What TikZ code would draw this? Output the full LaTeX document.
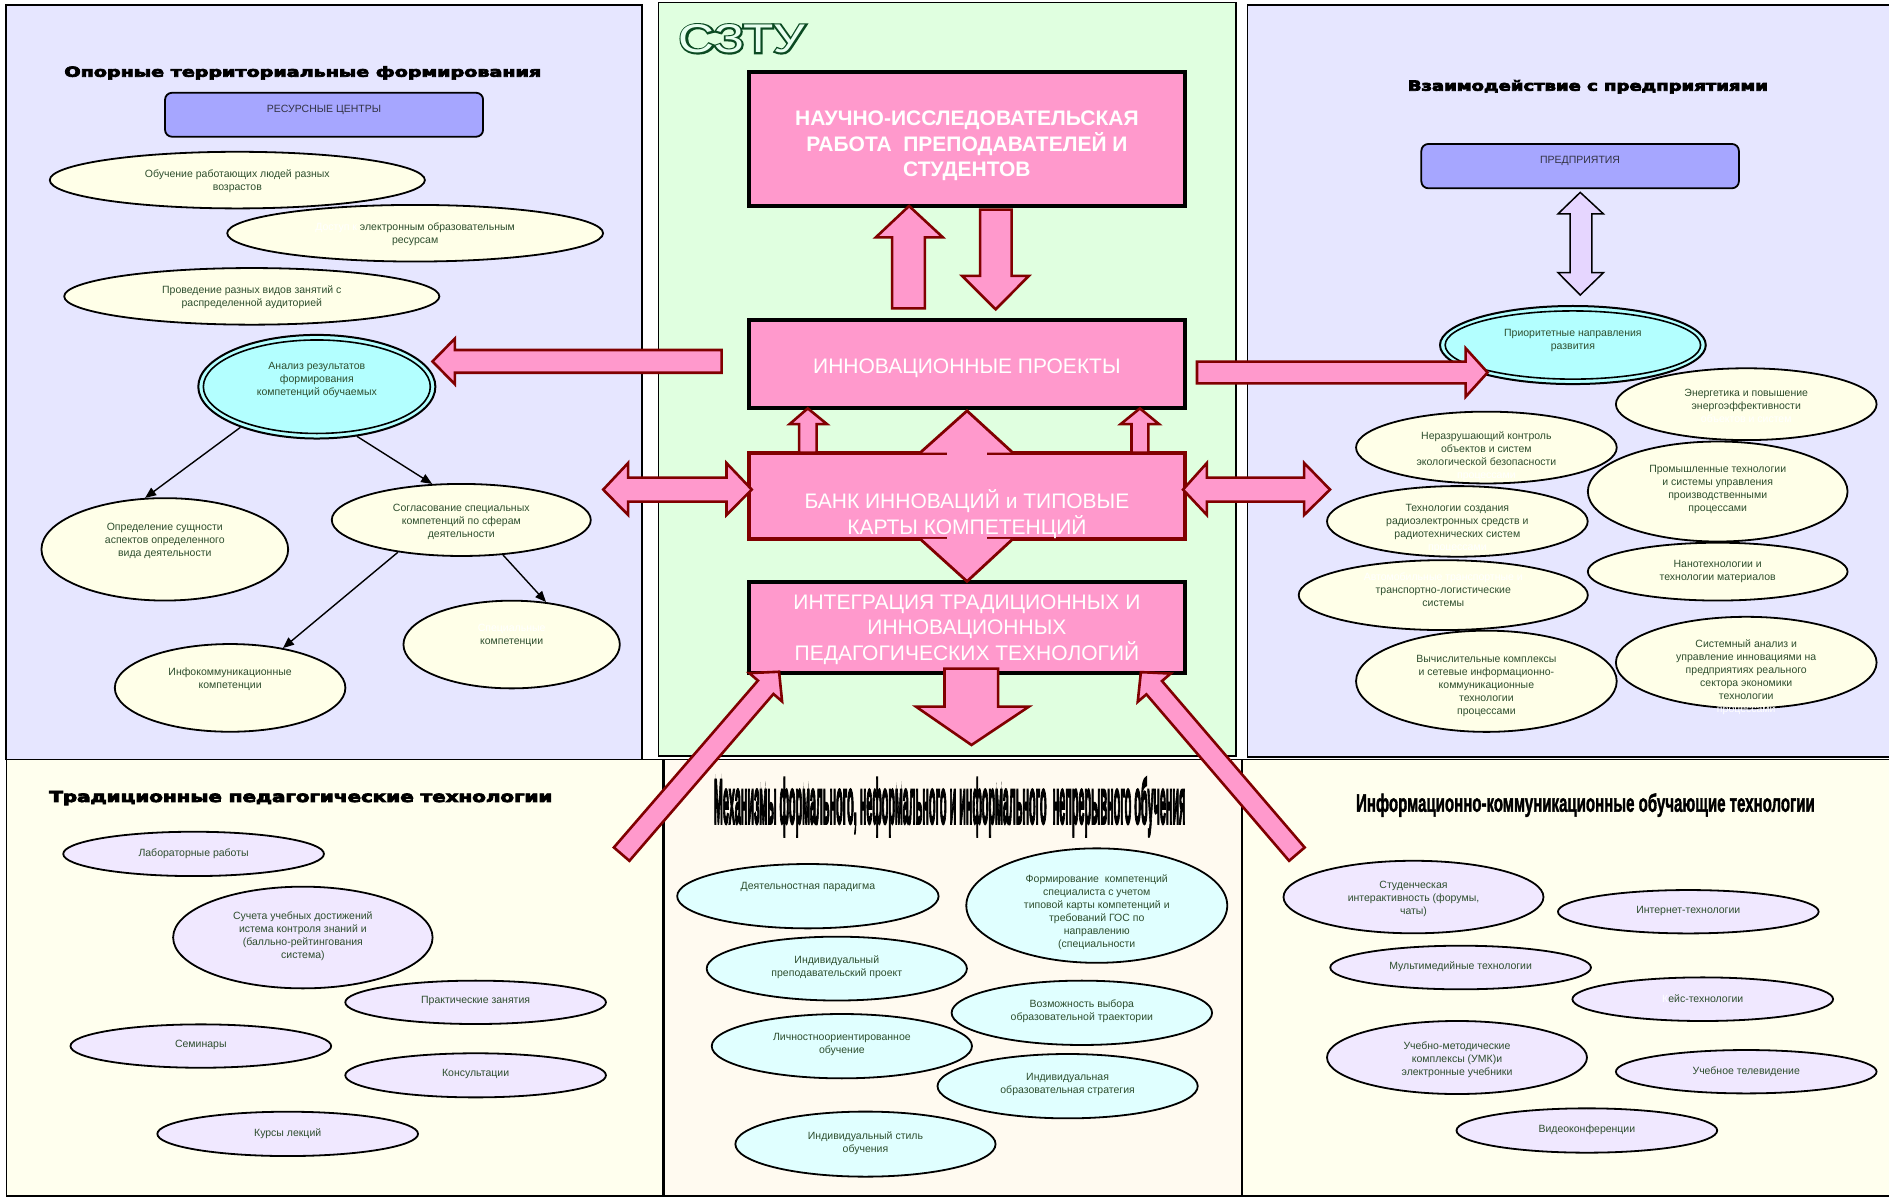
\documentclass[tikz,border=0pt]{standalone}
\usepackage{fontspec}
\usepackage{graphicx}
\setmainfont{Liberation Sans}
\newfontfamily\djv[FakeBold=5]{DejaVu Sans}
\newfontfamily\lsh[FakeBold=5]{Liberation Sans}
\newfontfamily\lsm[FakeBold=2]{Liberation Sans}
\newfontfamily\szb[FakeBold=8]{Liberation Sans}
\usetikzlibrary{shapes.geometric,arrows.meta}
\definecolor{lav}{HTML}{E6E6FF}
\definecolor{grn}{HTML}{E0FFE0}
\definecolor{ivo}{HTML}{FFFFEE}
\definecolor{flo}{HTML}{FFFAF0}
\definecolor{pnk}{HTML}{FF99CC}
\definecolor{mar}{HTML}{800000}
\definecolor{yel}{HTML}{FFFFE8}
\definecolor{cyn}{HTML}{B3FFFF}
\definecolor{lcy}{HTML}{E0FFFF}
\definecolor{lvl}{HTML}{F0E8FF}
\definecolor{per}{HTML}{A6A6FF}
\definecolor{dbl}{HTML}{E6D6FF}
\definecolor{tc}{HTML}{2E4E2E}
\definecolor{gray3}{HTML}{333344}
\definecolor{szg}{HTML}{0B4A22}
\definecolor{szl}{HTML}{E8FFF0}
\newcommand\ovl[8]{%
  \node[ov,#1,minimum width=#5*2.4094pt,minimum height=#6*2.4094pt] (#2) at (#3,#4) {};
  \node[etx] (#2t) at (#3,#7) {#8};}
\begin{document}
\begin{tikzpicture}[x=1.2047pt,y=-1.2047pt,
  panel/.style={draw=black,line width=1.6pt},
  ov/.style={ellipse,draw=black,line width=1.8pt,inner sep=0pt},
  etx/.style={text=tc,font=\fontsize{10.5}{13}\selectfont,align=center,inner sep=0pt},
  pbox/.style={rectangle,draw=black,line width=4pt,fill=pnk,inner sep=0pt,minimum width=362.2*1.2047pt},
  btx/.style={text=white,align=center,inner sep=0pt},
  blk/.style={fill=pnk,draw=mar,line width=2.6pt,line join=miter},
  rbox/.style={rectangle,rounded corners=7pt,draw=black,line width=1.8pt,fill=per,inner sep=0pt},
  rtx/.style={text=gray3,font=\fontsize{10.5}{13}\selectfont,inner sep=0pt},
  con/.style={draw=black,line width=1.4pt,-{Triangle[length=11pt,width=9pt]}},
  ttl/.style={anchor=base west,inner sep=0pt}]
\useasboundingbox (0,0) rectangle (1568,993.6);
\fill[white] (0,0) rectangle (1568,993.6);
% panels
\path[panel,fill=ivo] (5.3,630.3) rectangle (550.5,992.8);
\path[panel,fill=flo] (551,630.3) rectangle (1030.7,992.8);
\path[panel,fill=ivo] (1031,630.3) rectangle (1572,992.8);
\path[panel,fill=lav] (5.2,4) rectangle (532.8,630.3);
\path[panel,fill=grn] (546.5,2.2) rectangle (1026,627.6);
\path[panel,fill=lav] (1035.5,4.2) rectangle (1572,628.5);
% ---------- top left
\node[ttl] (t1) at (53.3,63.7) {\resizebox{476.8pt}{10.5pt}{\djv\bfseries Опорные территориальные формирования}};
\node[rbox,minimum width=264*1.2047pt,minimum height=36.5*1.2047pt] (res) at (269,95.25) {};
\node[rtx] (rest) at (269,90.8) {РЕСУРСНЫЕ ЦЕНТРЫ};
\ovl{fill=yel}{e1}{197}{149.5}{155.7}{23.5}{150}{Обучение работающих людей разных\\возрастов}
\ovl{fill=yel}{e2}{344.6}{193.6}{156}{23.5}{194.4}{\textcolor{white}{Доступ к} электронным образовательным\\ресурсам}
\ovl{fill=yel}{e3}{209}{246}{155.7}{23.5}{246.5}{Проведение разных видов занятий с\\распределенной аудиторией}
\ovl{fill=cyn,line width=2pt}{anl}{263}{321}{98.4}{43}{315.5}{Анализ результатов\\формирования\\компетенций обучаемых}
\node[ov,line width=1.6pt,minimum width=94.2*2.4094pt,minimum height=38.8*2.4094pt] (anlin) at (263,321) {};
\ovl{fill=yel}{opr}{136.8}{456}{102.4}{42.5}{449}{Определение сущности\\аспектов определенного\\вида деятельности}
\ovl{fill=yel}{sogl}{382.9}{431.6}{107.5}{29.9}{433.2}{Согласование специальных\\компетенций по сферам\\деятельности}
\ovl{fill=yel}{info}{191}{571}{95.7}{36.4}{563.8}{Инфокоммуникационные\\компетенции}
\ovl{fill=yel}{spec}{424.7}{535}{89.8}{36.4}{527}{\textcolor{white}{Специальные}\\компетенции}
\draw[con] (anl.208) -- (opr.111);
\draw[con] (anl.309) -- (sogl.129);
\draw[con] (sogl.207) -- (info.37);
\draw[con] (sogl.320) -- (spec.51);
% ---------- top right
\node[ttl] (t2) at (1168.4,75.3) {\resizebox{360pt}{10.7pt}{\djv\bfseries Взаимодействие с предприятиями}};
\node[rbox,minimum width=263.6*1.2047pt,minimum height=36.8*1.2047pt] (pred) at (1311.6,137.9) {};
\node[rtx] (predt) at (1311.6,133.6) {ПРЕДПРИЯТИЯ};
\ovl{fill=cyn,line width=2pt}{prio}{1305.6}{286.4}{110.3}{32.4}{283}{Приоритетные направления\\развития}
\node[ov,line width=1.6pt,minimum width=106*2.4094pt,minimum height=28.3*2.4094pt] (prioin) at (1305.6,286.4) {};
\filldraw[fill=dbl,draw=black,line width=1.5pt] (1311.7,159.7) -- (1331,177.6) -- (1321.3,177.6) -- (1321.3,226.3) -- (1331,226.3) -- (1311.7,244.9) -- (1293.2,226.3) -- (1303.2,226.3) -- (1303.2,177.6) -- (1293.2,177.6) -- cycle;
\ovl{fill=yel}{r1}{1449.5}{335.5}{108.2}{29.8}{337}{Энергетика и повышение\\энергоэффективности\\\textcolor{white}{объектов и систем}}
\ovl{fill=yel}{r2}{1233.8}{371.5}{108.2}{29.8}{378.6}{Неразрушающий контроль\\объектов и систем\\экологической безопасности\\\textcolor{white}{процессами}}
\ovl{fill=yel}{r3}{1425.8}{408}{107.8}{41.5}{406.5}{Промышленные технологии\\и системы управления\\производственными\\процессами}
\ovl{fill=yel}{r4}{1209.7}{432.8}{108.2}{29.3}{439}{Технологии создания\\радиоэлектронных средств и\\радиотехнических систем\\\textcolor{white}{процессами}}
\ovl{fill=yel}{r5}{1425.8}{474.5}{107.8}{24}{474.5}{Нанотехнологии и\\технологии материалов}
\ovl{fill=yel}{r6}{1198}{494}{120}{29}{489.5}{\textcolor{white}{Автомобильные транспортные и}\\транспортно-логистические\\системы}
\ovl{fill=yel}{r7}{1233.8}{565.5}{108.2}{42}{569}{Вычислительные комплексы\\и сетевые информационно-\\коммуникационные\\технологии\\процессами}
\ovl{fill=yel}{r8}{1449.5}{550}{108.2}{38}{561.7}{Системный анализ и\\управление инновациями на\\предприятиях реального\\сектора экономики\\технологии\\\textcolor{white}{процессами}}
% ---------- bottom left
\node[ttl] (t3) at (40.8,665.7) {\resizebox{503pt}{11pt}{\djv\bfseries Традиционные педагогические технологии}};
\ovl{fill=lvl}{b1}{160.7}{708.8}{108.2}{18.4}{708.3}{Лабораторные работы}
\ovl{fill=lvl}{b2}{251.4}{778.2}{107.7}{42.2}{776.7}{Сучета учебных достижений\\истема контроля знаний и\\(балльно-рейтингования\\система)}
\ovl{fill=lvl}{b3}{394.8}{832}{108.2}{18}{831.2}{Практические занятия}
\ovl{fill=lvl}{b4}{166.7}{868.3}{108.2}{18}{867.7}{Семинары}
\ovl{fill=lvl}{b5}{394.8}{892.6}{108.2}{18.3}{891.5}{Консультации}
\ovl{fill=lvl}{b6}{238.8}{941.2}{108.2}{18.4}{940.8}{Курсы лекций}
% ---------- bottom centre
\node[ttl] (t4) at (592.4,683.4) {\resizebox{471.5pt}{46pt}{\lsh\bfseries Механизмы формального, неформального и информального\ \ непрерывного обучения}};
\ovl{fill=lcy}{c1}{670.6}{743.9}{108.5}{26.7}{736.6}{Деятельностная парадигма}
\ovl{fill=lcy}{c2}{910.4}{751.7}{108.3}{47.5}{757.2}{Формирование\ \ компетенций\\специалиста с учетом\\типовой карты компетенций и\\требований ГОС по\\направлению\\(специальности}
\ovl{fill=lcy}{c3}{694.6}{804}{108}{26.5}{802.7}{Индивидуальный\\преподавательский проект}
\ovl{fill=lcy}{c4}{898}{840.7}{108.1}{26.7}{839.3}{Возможность выбора\\образовательной траектории}
\ovl{fill=lcy}{c5}{698.8}{868.4}{108}{26.7}{866.8}{Личностноориентированное\\обучение}
\ovl{fill=lcy}{c6}{886.2}{901.6}{108}{26.7}{899.9}{Индивидуальная\\образовательная стратегия}
\ovl{fill=lcy}{c7}{718.4}{949.7}{108}{27}{948.8}{Индивидуальный стиль\\обучения}
% ---------- bottom right
\node[ttl] (t5) at (1125.5,673.8) {\resizebox{458.6pt}{18.4pt}{\lsm\bfseries Информационно-коммуникационные обучающие технологии}};
\ovl{fill=lvl}{d1}{1173.3}{744.6}{107.9}{30.1}{746.4}{Студенческая\\интерактивность (форумы,\\чаты)}
\ovl{fill=lvl}{d2}{1401.4}{756.8}{108.2}{18}{756}{Интернет-технологии}
\ovl{fill=lvl}{d3}{1212.4}{803.1}{108.2}{18.1}{802.4}{Мультимедийные технологии}
\ovl{fill=lvl}{d4}{1413.4}{829.4}{108.2}{18.1}{828.7}{\textcolor{white}{К}ейс-технологии}
\ovl{fill=lvl}{d5}{1209.4}{877.8}{107.9}{30.3}{879.6}{Учебно-методические\\комплексы (УМК)и\\электронные учебники}
\ovl{fill=lvl}{d6}{1449.5}{889.6}{108.2}{18}{889.6}{Учебное телевидение}
\ovl{fill=lvl}{d7}{1317.2}{938.4}{108.2}{18.4}{937.5}{Видеоконференции}
% ---------- centre
\node[ttl] (sz1) at (563.4,43.7) {\resizebox{126pt}{28pt}{\szb\color{szg}СЗТУ}};
\node[ttl] (sz2) at (563.4,43.7) {\resizebox{126pt}{28pt}{\color{szl}СЗТУ}};
\node[pbox,minimum height=111.2*1.2047pt] (nir) at (802.6,115.1) {};
\node[btx,font=\fontsize{21}{25.8}\selectfont\bfseries] (nirt) at (802.6,121) {НАУЧНО-ИССЛЕДОВАТЕЛЬСКАЯ\\РАБОТА\ \ ПРЕПОДАВАТЕЛЕЙ И\\СТУДЕНТОВ};
\node[pbox,minimum height=73.1*1.2047pt] (inn) at (802.6,302.2) {};
\node[btx,font=\fontsize{21}{25.8}\selectfont] (innt) at (802.6,305.8) {ИННОВАЦИОННЫЕ ПРОЕКТЫ};
\node[pbox,draw=mar,line width=3.6pt,minimum height=71.6*1.2047pt] (bank) at (802.6,411.6) {};
\node[pbox,minimum height=76.2*1.2047pt] (integ) at (802.6,520.9) {};
% arrows between upper boxes
\filldraw[blk] (740.5,256) -- (740.5,197) -- (727,197) -- (754.6,171) -- (782.6,197) -- (767.7,197) -- (767.7,256) -- cycle;
\filldraw[blk] (813.6,174) -- (839.7,174) -- (839.7,229) -- (854,229) -- (826.5,256.8) -- (798.6,229) -- (813.6,229) -- cycle;
% small arrows bank -> innovation
\filldraw[blk] (663.3,375.8) -- (663.3,352) -- (655.5,352) -- (670.5,339) -- (686.4,352) -- (677.8,352) -- (677.8,375.8) -- cycle;
\filldraw[blk] (939.2,375.8) -- (939.2,352) -- (930.3,352) -- (946.2,339) -- (962,352) -- (953.2,352) -- (953.2,375.8) -- cycle;
% vertical double arrow through bank box
\fill[pnk] (763.8,375.8) -- (802.7,341) -- (840.7,375.8) -- cycle;
\draw[mar,line width=2.8pt,line join=miter] (763.8,375.8) -- (802.7,341) -- (840.7,375.8);
\fill[pnk] (785.7,373.4) rectangle (819,378.4);
\fill[pnk] (763.8,447.4) -- (802.7,482.6) -- (840.7,447.4) -- cycle;
\draw[mar,line width=2.8pt,line join=miter] (763.8,447.4) -- (802.7,482.6) -- (840.7,447.4);
\fill[pnk] (785.7,444.8) rectangle (819,449.9);
\node[btx,font=\fontsize{21}{26}\selectfont] (bankt) at (802.6,426.4) {БАНК ИННОВАЦИЙ и ТИПОВЫЕ\\КАРТЫ КОМПЕТЕНЦИЙ};
\node[btx,font=\fontsize{21}{25.7}\selectfont] (integt) at (802.6,522.6) {ИНТЕГРАЦИЯ ТРАДИЦИОННЫХ И\\ИННОВАЦИОННЫХ\\ПЕДАГОГИЧЕСКИХ ТЕХНОЛОГИЙ};
% down arrow from integration box
\filldraw[blk] (784,555) -- (828.5,555) -- (828.5,586.6) -- (854,586.6) -- (806.4,618.4) -- (760.4,586.6) -- (784,586.6) -- cycle;
% big horizontal arrows
\filldraw[blk] (599,290.5) -- (377.6,290.5) -- (377.6,281) -- (359,300) -- (377.6,319) -- (377.6,309.4) -- (599,309.4) -- cycle;
\filldraw[blk] (993.6,300.2) -- (1216.6,300.2) -- (1216.6,289.1) -- (1234.8,309.2) -- (1216.6,329.3) -- (1216.6,318.2) -- (993.6,318.2) -- cycle;
% double arrows left and right of bank
\filldraw[blk] (500.7,406.4) -- (521.4,384.3) -- (521.4,396.5) -- (603,396.5) -- (603,384.3) -- (624,406.4) -- (603,427.5) -- (603,416.4) -- (521.4,416.4) -- (521.4,427.5) -- cycle;
\filldraw[blk] (982,406.4) -- (1001.8,384.3) -- (1001.8,396.5) -- (1082.5,396.5) -- (1082.5,384.3) -- (1104,406.4) -- (1082.5,427.5) -- (1082.5,416.4) -- (1001.8,416.4) -- (1001.8,427.5) -- cycle;
% diagonal arrows
\begin{scope}[shift={(516,709)},rotate=49.2]
  \filldraw[blk] (0,-8.5) -- (183,-8.5) -- (183,-18) -- (200,0) -- (183,18) -- (183,8.5) -- (0,8.5) -- cycle;
\end{scope}
\begin{scope}[shift={(1076.5,709)},rotate=130.6]
  \filldraw[blk] (0,-8.5) -- (182,-8.5) -- (182,-18) -- (199,0) -- (182,18) -- (182,8.5) -- (0,8.5) -- cycle;
\end{scope}
\end{tikzpicture}
\end{document}
